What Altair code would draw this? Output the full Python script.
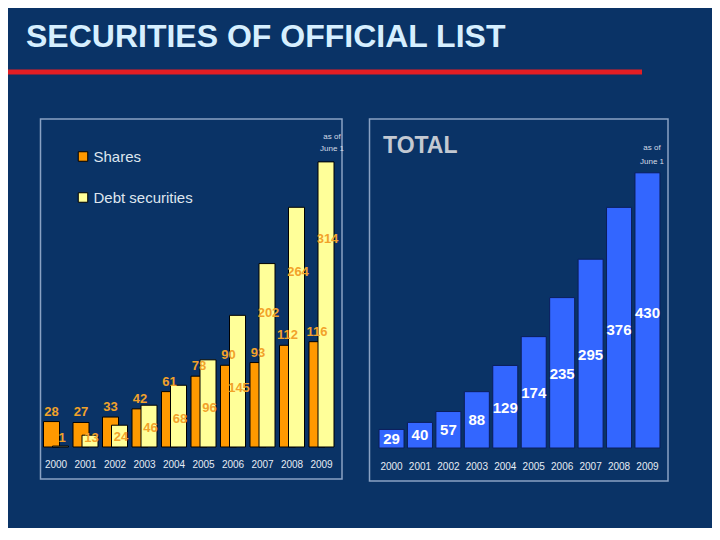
import altair as alt
import pandas as pd

# ---- data ----
years = ["2000", "2001", "2002", "2003", "2004", "2005", "2006", "2007", "2008", "2009"]
shares = [28, 27, 33, 42, 61, 78, 90, 93, 112, 116]
debt = [1, 13, 24, 46, 68, 96, 145, 202, 264, 314]
total = [29, 40, 57, 88, 129, 174, 235, 295, 376, 430]
series_names = ["Shares", "Debt securities"]
title_text = "SECURITIES OF OFFICIAL LIST"
panel_title = "TOTAL"
note_text = "as of\nJune 1"

BG = "#0a3366"
FONT = "Liberation Sans"
ORANGE = "#ff9900"
YELLOW = "#ffff99"
LABEL_OR = "#f2a22a"
BLUE = "#3366ff"

left_df = pd.DataFrame({
    "year": years * 2,
    "series": [series_names[0]] * len(years) + [series_names[1]] * len(years),
    "value": shares + debt,
})
total_df = pd.DataFrame({"year": years, "total": total})
year_df = pd.DataFrame({"year": years})
one = pd.DataFrame({"t": [title_text], "p": [panel_title], "n": [note_text]})

# ---- decorations ----
frame_left = alt.Chart(one).mark_rect(fill=BG, stroke="#8aa2c4", strokeWidth=1.5).encode(
    x=alt.value(32.5), x2=alt.value(334), y=alt.value(111), y2=alt.value(471))
frame_right = alt.Chart(one).mark_rect(fill=BG, stroke="#8aa2c4", strokeWidth=1.5).encode(
    x=alt.value(361.5), x2=alt.value(660), y=alt.value(111), y2=alt.value(473))
title = alt.Chart(one).mark_text(font=FONT, fontSize=32, fontWeight="bold", color="#d6efff",
                                 align="left", baseline="alphabetic").encode(
    x=alt.value(18), y=alt.value(39), text="t:N")
red_line = alt.Chart(one).mark_rule(color="#e31e24", strokeWidth=5).encode(
    x=alt.value(0), x2=alt.value(634), y=alt.value(64))

# ---- left panel ----
xL = alt.X("year:O", scale=alt.Scale(range=[33.25, 328.25], paddingInner=0, paddingOuter=0), axis=None)
yscaleL = alt.Scale(domain=[0, 350], range=[439, 121.2], nice=False)
colorL = alt.Color("series:N",
                   scale=alt.Scale(domain=series_names, range=[ORANGE, YELLOW]),
                   legend=alt.Legend(orient="none", legendX=67.5, legendY=141, title=None,
                                     symbolType="square", symbolSize=90,
                                     symbolStrokeColor="black", symbolStrokeWidth=1,
                                     labelFont=FONT, labelFontSize=15, labelColor="#dfe6ee",
                                     labelOffset=3, rowPadding=25, padding=0))

shares_bars = alt.Chart(left_df).transform_filter(alt.datum.series == series_names[0]).mark_bar(
    width=16, xOffset=-4.5, stroke="black", strokeWidth=1).encode(
    x=xL, y=alt.Y("value:Q", scale=yscaleL, axis=None), color=colorL)
debt_bars = alt.Chart(left_df).transform_filter(alt.datum.series == series_names[1]).mark_bar(
    width=16, xOffset=4.5, stroke="black", strokeWidth=1).encode(
    x=xL, y=alt.Y("value:Q", scale=yscaleL, axis=None), color=colorL)
shares_lab = alt.Chart(left_df).transform_filter(alt.datum.series == series_names[0]).mark_text(
    font=FONT, fontSize=13, fontWeight="bold", color=LABEL_OR, dx=-4.5, dy=-10).encode(
    x=xL, y=alt.Y("value:Q", scale=yscaleL, axis=None), text="value:Q")
debt_lab = alt.Chart(left_df).transform_filter(alt.datum.series == series_names[1]).transform_calculate(
    ly="datum.value < 180 ? max(datum.value * 0.45, 10) : datum.value * 0.73").mark_text(
    font=FONT, fontSize=13, fontWeight="bold", color=LABEL_OR, dx=6).encode(
    x=xL, y=alt.Y("ly:Q", scale=yscaleL, axis=None), text="value:Q")
years_L = alt.Chart(year_df).mark_text(font=FONT, fontSize=10, color="#e6ecf4").encode(
    x=xL, y=alt.value(457), text="year:N")
note_L = alt.Chart(one).mark_text(font=FONT, fontSize=8, color="#d5dce6", lineBreak="\n",
                                  lineHeight=12, baseline="middle").encode(
    x=alt.value(324), y=alt.value(129), text="n:N")

left_panel = alt.layer(shares_bars, debt_bars, shares_lab, debt_lab, years_L, note_L)

# ---- right panel ----
xR = alt.X("year:O", scale=alt.Scale(range=[369.3, 653.7], paddingInner=0, paddingOuter=0), axis=None)
yscaleR = alt.Scale(domain=[0, 450], range=[440, 152], nice=False)

total_bars = alt.Chart(total_df).mark_bar(width=25, fill=BLUE, stroke="#0b1e5a", strokeWidth=1).encode(
    x=xR, y=alt.Y("total:Q", scale=yscaleR, axis=None))
total_lab = alt.Chart(total_df).transform_calculate(ly="datum.total * 0.49").mark_text(
    font=FONT, fontSize=15, fontWeight="bold", color="white").encode(
    x=xR, y=alt.Y("ly:Q", scale=yscaleR, axis=None), text="total:Q")
years_R = alt.Chart(year_df).mark_text(font=FONT, fontSize=10, color="#e6ecf4").encode(
    x=xR, y=alt.value(459), text="year:N")
note_R = alt.Chart(one).mark_text(font=FONT, fontSize=8, color="#d5dce6", lineBreak="\n",
                                  lineHeight=14, baseline="middle").encode(
    x=alt.value(644), y=alt.value(140), text="n:N")
total_title = alt.Chart(one).mark_text(font=FONT, fontSize=23, fontWeight="bold", color="#c3c9d2",
                                       align="left", baseline="alphabetic").encode(
    x=alt.value(375), y=alt.value(145), text="p:N")

right_panel = alt.layer(total_bars, total_lab, years_R, note_R, total_title)

chart = alt.layer(frame_left, frame_right, title, red_line, left_panel, right_panel).resolve_scale(
    x="independent", y="independent"
).properties(
    width=704, height=520, autosize=alt.AutoSizeParams(type="none"), padding=0, background=BG
).configure_view(stroke=None)

chart.save("out.html", embed_options={"renderer": "svg", "actions": False})
